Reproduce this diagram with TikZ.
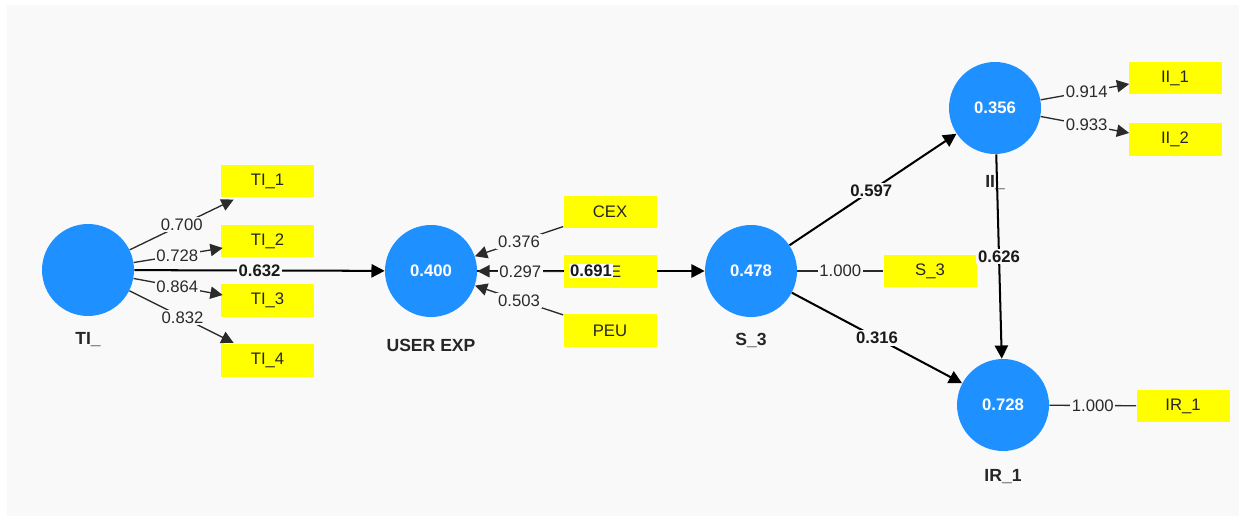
\documentclass[tikz,border=0pt]{standalone}
\usepackage{fontspec}
\setmainfont{Liberation Sans}
\usetikzlibrary{arrows.meta,calc}
\definecolor{panel}{HTML}{F9F9F9}
\definecolor{lvblue}{HTML}{1E90FF}
\definecolor{indyellow}{HTML}{FFFF00}
\definecolor{loadgray}{HTML}{2A2A2A}
\tikzset{
  lv/.style={circle,fill=lvblue,draw=none,minimum size=1.84cm,inner sep=0pt,
    text=white,font=\fontsize{9.5}{11}\selectfont\bfseries},
  ind/.style={rectangle,fill=indyellow,draw=none,minimum width=1.86cm,minimum height=0.65cm,
    inner sep=0pt,text=black!85,font=\fontsize{9.5}{11}\selectfont},
  lvname/.style={font=\fontsize{10}{12}\selectfont\bfseries,text=black!85},
  loading/.style={draw=loadgray,line width=0.75pt},
  loadarrow/.style={loading,-{Triangle[length=7pt,width=7pt]}},
  path/.style={draw=black,line width=1.15pt,-{Triangle[length=7.5pt,width=7.5pt]}},
  loadlbl/.style={fill=panel,inner sep=1pt,text=loadgray,font=\fontsize{9.5}{11}\selectfont},
  pathlbl/.style={fill=panel,inner sep=1pt,text=black!90,font=\fontsize{9.5}{11}\selectfont\bfseries},
}
\begin{document}
\begin{tikzpicture}[x=0.02cm,y=-0.02cm]
\useasboundingbox (0,0) rectangle (1239,516);
\fill[white] (0,0) rectangle (1239,516);
\fill[panel] (7,5) rectangle (1239,516);

% latent variables
\node[lv] (TI) at (88,270) {};
\node[lv] (UE) at (431,271) {0.400};
\node[lv] (S3) at (751,271) {0.478};
\node[lv] (II) at (995,108) {0.356};
\node[lv] (IR) at (1003,405) {0.728};

% indicators
\node[ind] (TI1) at (267.5,181) {TI\_1};
\node[ind] (TI2) at (267.5,241) {TI\_2};
\node[ind] (TI3) at (267.5,300.5) {TI\_3};
\node[ind] (TI4) at (267.5,360.5) {TI\_4};
\node[ind] (CEX) at (610,212) {CEX};
\node[ind] (PEU) at (610,330.5) {PEU};
\node[ind] (S3b) at (930,271) {S\_3};
\node[ind] (II1) at (1175,78) {II\_1};
\node[ind] (II2) at (1175,139.5) {II\_2};
\node[ind] (IRb) at (1183,406) {IR\_1};

% structural path behind the middle box
\draw[path] (UE) -- (S3);
\node[ind] (PE) at (610,271.5) {PE};
\node[pathlbl,fill=white,inner sep=0.5pt] (l691) at (591,271) {0.691};

% latent variable names
\node[lvname] (TIn) at (88,340) {TI\_};
\node[lvname] (UEn) at (431,345) {USER EXP};
\node[lvname] (S3n) at (751,340) {S\_3};
\node[lvname] (IRn) at (1003,477) {IR\_1};

% outer loadings TI_
\draw[loadarrow] (TI) -- ($(TI1.south west)+(13,2)$) node[loadlbl,pos=0.5] {0.700};
\draw[loadarrow] (TI) -- ($(TI2.west)+(2,7)$) node[loadlbl,pos=0.49] {0.728};
\draw[loadarrow] (TI) -- ($(TI3.west)+(2,-5.5)$) node[loadlbl,pos=0.49] {0.864};
\draw[loadarrow] (TI) -- ($(TI4.north west)+(13,-1)$) node[loadlbl,pos=0.51] {0.832};

% formative indicators to USER EXP
\draw[loadarrow] ($(CEX.south west)+(0,-2)$) -- (UE) node[loadlbl,pos=0.5] {0.376};
\draw[loadarrow] (PE.west) -- (UE) node[loadlbl,pos=0.5] {0.297};
\draw[loadarrow] ($(PEU.north west)+(0,1)$) -- (UE) node[loadlbl,pos=0.5] {0.503};

% structural paths
\draw[path] (TI) -- (UE) node[pathlbl,pos=0.5] {0.632};
\draw[path] (S3) -- (II) node[pathlbl,pos=0.49] {0.597};
\draw[path] (S3) -- (IR) node[pathlbl,pos=0.5] {0.316};
\draw[path] (II) -- (IR) node[pathlbl,pos=0.5] {0.626};
\node[lvname,text=black!85] (IIn) at (995,183) {II\_};

% single-indicator loadings
\draw[loading] (S3) -- (S3b) node[loadlbl,pos=0.5] {1.000};
\draw[loading] (IR) -- (IRb) node[loadlbl,pos=0.5] {1.000};

% outer loadings II_
\draw[loadarrow] (II) -- ($(II1.west)+(1,6)$) node[loadlbl,pos=0.52] {0.914};
\draw[loadarrow] (II) -- ($(II2.west)+(1,-6.5)$) node[loadlbl,pos=0.52] {0.933};
\end{tikzpicture}
\end{document}
